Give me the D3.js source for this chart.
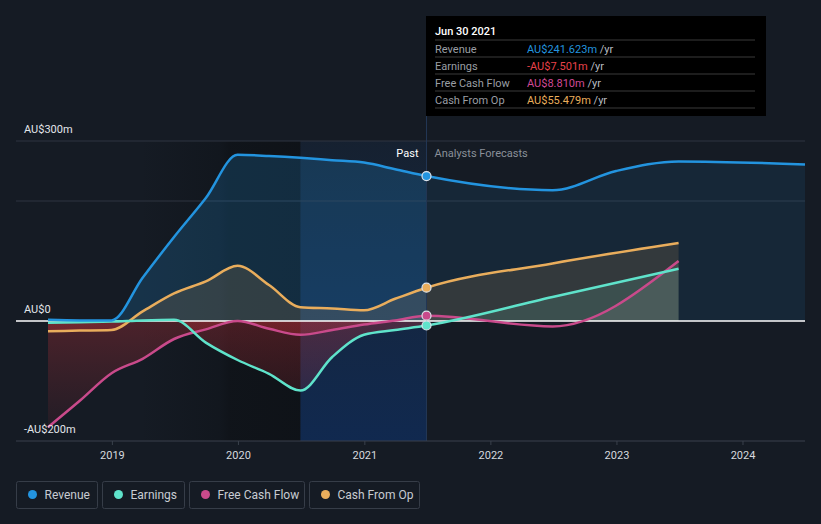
<!DOCTYPE html>
<html>
<head>
<meta charset="utf-8">
<script src="https://cdn.jsdelivr.net/npm/d3@7"></script>
<style>
  html, body { margin: 0; padding: 0; background: #151b24; }
  svg { display: block; font-family: Roboto, "Noto Sans", sans-serif; }
</style>
</head>
<body>
<svg id="chart" width="821" height="524"></svg>
<script>
// ---- data ----
const pastDates = ["2018-06-30","2018-09-30","2018-12-31","2019-03-31","2019-06-30","2019-09-30","2019-12-31",
  "2020-03-31","2020-06-30","2020-09-30","2020-12-31","2021-03-31","2021-06-30"];
const revenuePast  = [2, 1, 1, 72, 140, 205, 277, 275, 272, 268, 264, 253, 241.623];
const earningsPast = [-3, -2, -1, 1, 2, -36, -65, -88, -116, -60, -23, -15, -7.501];
const fcfPast      = [-177, -133, -87, -63, -30, -14, 0, -13, -23, -15, -6, 1, 8.81];
const cashOpPast   = [-17, -16, -15, 16, 46, 66, 92, 60, 23, 21, 18, 37, 55.479];

const revenueForecastDates = ["2022-06-30","2022-12-31","2023-06-30","2024-06-30"];
const revenueForecast = [218, 250, 266, 261];
const forecastDates = ["2022-06-30","2023-06-30"];
const earningsForecast = [40, 87];
const fcfForecast = [-9, 100];
const cashOpForecast = [96, 130];

const yTicks = [-200, 0, 300];
const yTickLabels = ["-AU$200m", "AU$0", "AU$300m"];
const gridValues = [200, 300];
const xTickYears = [2019, 2020, 2021, 2022, 2023, 2024];

const seriesNames = ["Revenue", "Earnings", "Free Cash Flow", "Cash From Op"];
const seriesColors = ["#2394df", "#5fe3cb", "#c94a8b", "#e9ad5c"];
const tooltipValues = ["AU$241.623m", "-AU$7.501m", "AU$8.810m", "AU$55.479m"];
const tooltipColors = ["#2394df", "#e8424a", "#d04a96", "#e9ad5c"];
const tooltipDate = "Jun 30 2021";

// ---- setup ----
const parse = d3.timeParse("%Y-%m-%d");
const svg = d3.select("#chart");
const W = 821, H = 524;
const plotLeft = 16, plotRight = 805;

const x = d3.scaleTime()
  .domain([parse("2018-06-30"), parse("2024-06-30")])
  .range([48, 805]);
const y = d3.scaleLinear().domain([-200, 300]).range([441, 141]);

const nowDate = parse("2021-06-30");
const xNow = x(nowDate);
const xHl = x(parse("2020-06-30"));

function build(pastVals, fDates, fVals) {
  const arr = pastDates.map((d, i) => ({ date: parse(d), v: pastVals[i] }));
  fDates.forEach((d, i) => arr.push({ date: parse(d), v: fVals[i] }));
  return arr;
}
const series = [
  build(revenuePast, revenueForecastDates, revenueForecast),
  build(earningsPast, forecastDates, earningsForecast),
  build(fcfPast, forecastDates, fcfForecast),
  build(cashOpPast, forecastDates, cashOpForecast)
];

const defs = svg.append("defs");

// background
svg.append("rect").attr("width", W).attr("height", H).attr("fill", "#151b24");

// darker band (horizontal gradient)
const dg = defs.append("linearGradient").attr("id", "dark").attr("gradientUnits", "userSpaceOnUse")
  .attr("x1", 140).attr("y1", 0).attr("x2", xHl).attr("y2", 0);
dg.append("stop").attr("offset", "0%").attr("stop-color", "#0c0f13").attr("stop-opacity", 0);
dg.append("stop").attr("offset", "50%").attr("stop-color", "#0c0f13").attr("stop-opacity", 0.35);
dg.append("stop").attr("offset", "56%").attr("stop-color", "#0c0f13").attr("stop-opacity", 0.6);
dg.append("stop").attr("offset", "100%").attr("stop-color", "#0c0f13").attr("stop-opacity", 0.7);
svg.append("rect").attr("x", 140).attr("y", 141)
  .attr("width", xHl - 140).attr("height", 300)
  .attr("fill", "url(#dark)");

// past-year highlight
const hg = defs.append("linearGradient").attr("id", "hl").attr("x1", 0).attr("y1", 0).attr("x2", 0).attr("y2", 1);
hg.append("stop").attr("offset", "0%").attr("stop-color", "#1a4a8a").attr("stop-opacity", 0.12);
hg.append("stop").attr("offset", "100%").attr("stop-color", "#0b3a84").attr("stop-opacity", 0.45);
svg.append("rect").attr("x", xHl).attr("y", 141)
  .attr("width", xNow - xHl).attr("height", 300)
  .attr("fill", "url(#hl)");

// gridlines
svg.append("g").selectAll("line").data(gridValues).join("line")
  .attr("x1", plotLeft).attr("x2", plotRight)
  .attr("y1", d => y(d)).attr("y2", d => y(d))
  .attr("stroke", "#2e3540").attr("stroke-width", 1);

// clip paths
defs.append("clipPath").attr("id", "pos").append("rect")
  .attr("x", 0).attr("y", 0).attr("width", W).attr("height", y(0));
defs.append("clipPath").attr("id", "neg").append("rect")
  .attr("x", 0).attr("y", y(0)).attr("width", xNow).attr("height", H - y(0));
defs.append("clipPath").attr("id", "past").append("rect")
  .attr("x", 0).attr("y", 0).attr("width", xNow).attr("height", H);
defs.append("clipPath").attr("id", "future").append("rect")
  .attr("x", xNow).attr("y", 0).attr("width", W - xNow).attr("height", H);

const rg = defs.append("linearGradient").attr("id", "redg").attr("gradientUnits", "userSpaceOnUse")
  .attr("x1", 0).attr("y1", y(0)).attr("x2", 0).attr("y2", y(-200));
rg.append("stop").attr("offset", "0%").attr("stop-color", "#d8343c").attr("stop-opacity", 0.28);
rg.append("stop").attr("offset", "100%").attr("stop-color", "#d8343c").attr("stop-opacity", 0.04);

const area = d3.area().x(d => x(d.date)).y0(y(0)).y1(d => y(d.v)).curve(d3.curveMonotoneX);
const line = d3.line().x(d => x(d.date)).y(d => y(d.v)).curve(d3.curveMonotoneX);

// revenue area
svg.append("path").datum(series[0]).attr("d", area).attr("clip-path", "url(#past)")
  .attr("fill", seriesColors[0]).attr("fill-opacity", 0.2);
svg.append("path").datum(series[0]).attr("d", area).attr("clip-path", "url(#future)")
  .attr("fill", seriesColors[0]).attr("fill-opacity", 0.1);

// other areas
[1, 2, 3].forEach(i => {
  const g = svg.append("g");
  g.append("g").attr("clip-path", "url(#pos)").append("path").datum(series[i]).attr("d", area)
    .attr("fill", i === 2 ? "#9aa0b0" : seriesColors[i]).attr("fill-opacity", 0.14);
  g.append("g").attr("clip-path", "url(#neg)").append("path").datum(series[i]).attr("d", area)
    .attr("fill", "url(#redg)");
});

// zero line
svg.append("line").attr("x1", plotLeft).attr("x2", plotRight).attr("y1", y(0)).attr("y2", y(0))
  .attr("stroke", "#ffffff").attr("stroke-width", 1.5);

// lines
[3, 2, 1, 0].forEach(i => {
  svg.append("path").datum(series[i]).attr("d", line)
    .attr("fill", "none").attr("stroke", seriesColors[i]).attr("stroke-width", 2.5)
    .attr("stroke-linejoin", "round");
});

// now divider
svg.append("line").attr("x1", xNow).attr("x2", xNow).attr("y1", 115).attr("y2", 441)
  .attr("stroke", "#223654").attr("stroke-width", 1);

// markers
[3, 2, 1, 0].forEach(i => {
  const p = series[i].find(d => +d.date === +nowDate);
  svg.append("circle").attr("cx", x(p.date)).attr("cy", y(p.v)).attr("r", 4.5)
    .attr("fill", seriesColors[i]).attr("stroke", "#dde3ea").attr("stroke-width", 1.2);
});

// x axis
const xAxis = d3.axisBottom(x)
  .tickValues(xTickYears.map(yr => new Date(yr, 0, 1)))
  .tickFormat(d3.timeFormat("%Y")).tickSize(4).tickPadding(6);
const ax = svg.append("g").attr("transform", `translate(0,${y(-200)})`).call(xAxis);
ax.select(".domain").remove();
ax.selectAll(".tick line").attr("stroke", "#3a414c");
ax.selectAll(".tick text").attr("fill", "#d6d9de").attr("font-size", 11)
  .attr("font-family", "Roboto, sans-serif");
svg.append("line").attr("x1", plotLeft).attr("x2", plotRight).attr("y1", y(-200)).attr("y2", y(-200))
  .attr("stroke", "#3a414c").attr("stroke-width", 1);

// y labels
svg.append("g").selectAll("text").data(yTicks).join("text")
  .attr("x", 24).attr("y", d => y(d) - 8)
  .attr("fill", "#e3e6ea").attr("font-size", 11)
  .text((d, i) => yTickLabels[i]);

// Past / Forecast labels
svg.append("text").attr("x", xNow - 8).attr("y", 157).attr("text-anchor", "end")
  .attr("fill", "#ffffff").attr("font-size", 11).text("Past");
svg.append("text").attr("x", xNow + 8).attr("y", 157)
  .attr("fill", "#8a9099").attr("font-size", 11).text("Analysts Forecasts");

// tooltip
const tt = svg.append("g").attr("transform", "translate(426,16)");
tt.append("rect").attr("width", 340).attr("height", 100).attr("fill", "#000000");
tt.append("text").attr("x", 9).attr("y", 19).attr("fill", "#ffffff").attr("font-size", 11)
  .attr("font-weight", 500).text(tooltipDate);
seriesNames.forEach((n, i) => {
  const yy = 24 + i * 17;
  tt.append("line").attr("x1", 9).attr("x2", 329).attr("y1", yy).attr("y2", yy)
    .attr("stroke", "#3a3a3a").attr("stroke-width", 1);
  tt.append("text").attr("x", 9).attr("y", yy + 12.5).attr("fill", "#9a9ea4").attr("font-size", 11).text(n);
  const t = tt.append("text").attr("x", 101).attr("y", yy + 12.5).attr("font-size", 11);
  t.append("tspan").attr("fill", tooltipColors[i]).text(tooltipValues[i]);
  t.append("tspan").attr("fill", "#b8bcc2").text(" /yr");
});
tt.append("line").attr("x1", 9).attr("x2", 329).attr("y1", 92).attr("y2", 92)
  .attr("stroke", "#3a3a3a").attr("stroke-width", 1);

// legend
const legendX = [16, 102, 189, 309];
const legendW = [81, 82, 115, 110];
const lg = svg.append("g");
seriesNames.forEach((n, i) => {
  const g = lg.append("g").attr("transform", `translate(${legendX[i] + 0.5},481.5)`);
  g.append("rect").attr("width", legendW[i]).attr("height", 27).attr("rx", 2)
    .attr("fill", "none").attr("stroke", "#363d48");
  g.append("circle").attr("cx", 16).attr("cy", 13).attr("r", 4.5).attr("fill", seriesColors[i]);
  g.append("text").attr("x", 28).attr("y", 17.5).attr("fill", "#c8ccd2").attr("font-size", 12).text(n);
});
</script>
</body>
</html>
